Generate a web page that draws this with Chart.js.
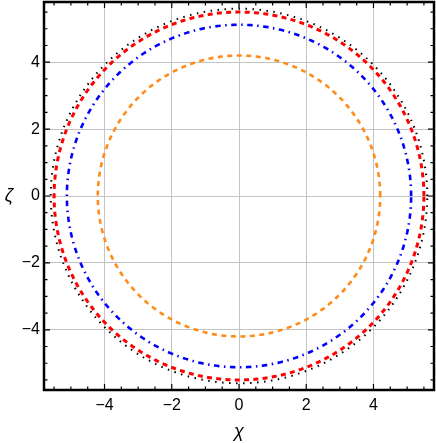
<!DOCTYPE html>
<html><head><meta charset="utf-8">
<script src="https://cdn.jsdelivr.net/npm/chart.js@4/dist/chart.umd.min.js"></script>
<style>html,body{margin:0;padding:0;background:#fff;overflow:hidden}canvas{display:block}</style>
</head><body>
<canvas id="c" width="436" height="443"></canvas>
<script>
// ---- data ----
const seriesNames = ['orange dashed', 'blue dot-dash', 'red dashed', 'black dotted'];
const radii = [4.2, 5.12, 5.5, 5.6];          // radius of each closed curve (chi/zeta units)
const xTicks = [-4, -2, 0, 2, 4];
const yTicks = [-4, -2, 0, 2, 4];
const xRange = [-5.8, 5.8];
const yRange = [-5.8, 5.8];
const xTitle = 'χ';
const yTitle = 'ζ';

// ---- styles ----
const colors = ['#ff8c1a', '#0000ff', '#ff0000', '#000000'];
const dashes = [[5, 4.5], [5.5, 4.5, 1.5, 4.5], [5, 4.3], [1.5, 5.5]];
const widths = [2.6, 2.6, 3, 2];

function curve(r) {
  const pts = [];
  for (let a = 0; a <= 360; a += 1) {
    const t = a * Math.PI / 180;
    pts.push({x: r * Math.cos(t), y: r * Math.sin(t)});
  }
  return pts;
}

const datasets = radii.map((r, i) => ({
  label: seriesNames[i],
  data: curve(r),
  showLine: true,
  borderColor: colors[i],
  borderWidth: widths[i],
  borderDash: dashes[i],
  pointRadius: 0,
  fill: false,
  tension: 0
}));

const fmt = v => (v < 0 ? '\u2212' + Math.abs(v) : String(v));
const FONT = "'Liberation Sans', Arial, sans-serif";

const framePlugin = {
  id: 'frame',
  afterDraw(chart) {
    const {ctx, chartArea: a, scales} = chart;
    ctx.save();
    ctx.strokeStyle = '#000';
    ctx.lineWidth = 1.2;
    const xs = scales.x, ys = scales.y;
    for (let v = -5.5; v <= 5.51; v += 0.5) {
      const major = Math.abs(v % 2) < 1e-6;
      const L = major ? 6 : 3.5;
      const px = xs.getPixelForValue(v);
      const py = ys.getPixelForValue(v);
      ctx.beginPath();
      ctx.moveTo(px, a.bottom); ctx.lineTo(px, a.bottom - L);
      ctx.moveTo(px, a.top); ctx.lineTo(px, a.top + L);
      ctx.moveTo(a.left, py); ctx.lineTo(a.left + L, py);
      ctx.moveTo(a.right, py); ctx.lineTo(a.right - L, py);
      ctx.stroke();
    }
    ctx.lineWidth = 2.5;
    ctx.strokeRect(a.left, a.top, a.right - a.left, a.bottom - a.top);
    ctx.fillStyle = '#000';
    ctx.font = 'italic 18px ' + FONT;
    ctx.textAlign = 'center';
    ctx.textBaseline = 'middle';
    ctx.fillText(xTitle, (a.left + a.right) / 2, 432);
    ctx.fillText(yTitle, 9, ys.getPixelForValue(0));
    ctx.restore();
  }
};

new Chart(document.getElementById('c'), {
  type: 'scatter',
  data: {datasets},
  options: {
    responsive: false,
    animation: false,
    layout: {padding: {top: 2, right: 2, left: 0, bottom: 0}},
    plugins: {legend: {display: false}, tooltip: {enabled: false}},
    scales: {
      x: {
        type: 'linear', min: xRange[0], max: xRange[1],
        afterBuildTicks: s => { s.ticks = xTicks.map(v => ({value: v})); },
        afterFit: s => { s.height = 53; s.paddingLeft = 0; s.paddingRight = 0; },
        grid: {color: '#c4c4c4', lineWidth: 1, drawTicks: false},
        border: {display: false},
        ticks: {color: '#000', padding: 6, font: {family: FONT, size: 16}, callback: fmt, maxRotation: 0}
      },
      y: {
        type: 'linear', min: yRange[0], max: yRange[1],
        afterBuildTicks: s => { s.ticks = yTicks.map(v => ({value: v})); },
        afterFit: s => { s.width = 44; s.paddingTop = 0; s.paddingBottom = 0; },
        grid: {color: '#c4c4c4', lineWidth: 1, drawTicks: false},
        border: {display: false},
        ticks: {color: '#000', padding: 4, font: {family: FONT, size: 16}, callback: fmt}
      }
    }
  },
  plugins: [framePlugin]
});
</script>
</body></html>
